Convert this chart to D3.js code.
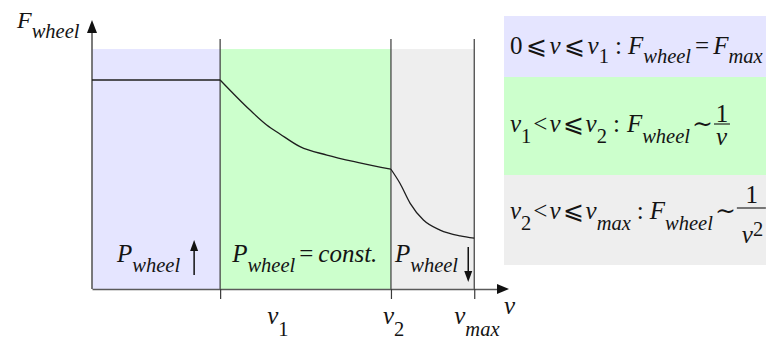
<!DOCTYPE html>
<html>
<head>
<meta charset="utf-8">
<script src="https://cdn.jsdelivr.net/npm/d3@7/dist/d3.min.js"></script>
<style>
  body { margin: 0; background: #fff; }
  svg { display: block; }
</style>
</head>
<body>
<svg id="chart" width="766" height="340"></svg>
<script>
// Speed breakpoints (arbitrary speed units) and their axis labels
const speedKeys = ["v1", "v2", "vmax"];
const speedValues = [30, 70, 89.5];
const speedLabels = [
  [{ t: "v", i: true }, { t: "1", sub: true }],
  [{ t: "v", i: true }, { t: "2", sub: true }],
  [{ t: "v", i: true }, { t: "max", i: true, sub: true }]
];

// Driving regimes: speed interval and fill colour
const regimeNames = ["constant force", "constant power", "falling power"];
const regimeStart = [0, 30, 70];
const regimeEnd = [30, 70, 89.5];
const regimeColors = ["#e5e5ff", "#ccffcc", "#eeeeee"];

// Wheel force over speed (v, F), one array per regime, F in % of Fmax
const forceConst = [[0, 100], [30, 100]];
const forcePower = [[30, 100], [37, 85.6], [40.9, 78.5], [44, 74.2], [48.7, 68.1],
                    [55, 64.1], [62.7, 60.4], [70, 57.3]];
const forceFalling = [[70, 57.3], [72.1, 50.6], [74.5, 41], [77.6, 33], [81.5, 28.2],
                      [86.2, 25.4], [89.5, 24.3]];

// Power labels inside each regime
const powerLabels = [
  [{ t: "P", i: true }, { t: "wheel", i: true, sub: true }],
  [{ t: "P", i: true }, { t: "wheel", i: true, sub: true }, { t: "=", dx: 4 }, { t: "const.", i: true, dx: 5 }],
  [{ t: "P", i: true }, { t: "wheel", i: true, sub: true }]
];
const powerArrows = ["up", "none", "down"];

// Legend formulas, one row per regime
const legendRows = [
  [{ t: "0" }, { t: "⩽", dx: 3 }, { t: "v", i: true, dx: 3 }, { t: "⩽", dx: 3 }, { t: "v", i: true, dx: 3 },
   { t: "1", sub: true }, { t: ":", dx: 6 }, { t: "F", i: true, dx: 6 }, { t: "wheel", i: true, sub: true },
   { t: "=", dx: 4 }, { t: "F", i: true, dx: 4 }, { t: "max", i: true, sub: true }],
  [{ t: "v", i: true }, { t: "1", sub: true }, { t: "<", dx: 2 }, { t: "v", i: true, dx: 2 }, { t: "⩽", dx: 2 },
   { t: "v", i: true, dx: 2 }, { t: "2", sub: true }, { t: ":", dx: 6 }, { t: "F", i: true, dx: 7 },
   { t: "wheel", i: true, sub: true }, { t: "∼", dx: 2 }],
  [{ t: "v", i: true }, { t: "2", sub: true }, { t: "<", dx: 2 }, { t: "v", i: true, dx: 2 }, { t: "⩽", dx: 2 },
   { t: "v", i: true, dx: 2 }, { t: "max", i: true, sub: true }, { t: ":", dx: 6 }, { t: "F", i: true, dx: 6 },
   { t: "wheel", i: true, sub: true }, { t: "∼", dx: 2 }]
];
const legendFractions = [null, { num: "1", den: "v", exp: null }, { num: "1", den: "v", exp: "2" }];

const axisTitleY = [{ t: "F", i: true }, { t: "wheel", i: true, sub: true }];
const axisTitleX = [{ t: "v", i: true }];

// ---------------------------------------------------------------------------
const svg = d3.select("#chart");
const FONT = "'Liberation Serif', 'DejaVu Serif', serif";
const INK = "#141414";

const x = d3.scaleLinear().domain([0, 96]).range([92, 502]);
const y = d3.scaleLinear().domain([0, 100]).range([289, 80]);

const F_SHADE_TOP = 114.8;   // top of the coloured regime bands
const F_DIVIDER_TOP = 119.6; // top of the breakpoint dividers
const F_AXIS_TOP = 128.7;    // tip of the force axis arrow

// Writes a formula made of segments (main / subscript / superscript)
function richText(parent, x0, y0, segs, opt) {
  const o = Object.assign({ size: 25, subSize: 20.5, subDy: 10, supDy: 8 }, opt || {});
  const t = parent.append("text")
    .attr("x", x0).attr("y", y0)
    .attr("font-family", FONT)
    .attr("fill", INK);
  segs.forEach(s => {
    const ts = t.append("tspan")
      .attr("y", y0 + (s.sub ? o.subDy : s.sup ? -o.supDy : 0))
      .attr("font-size", (s.sub || s.sup) ? o.subSize : o.size)
      .attr("font-style", s.i ? "italic" : "normal")
      .text(s.t);
    if (s.dx) ts.attr("dx", s.dx);
  });
  return t;
}

// Regime bands
svg.append("g").selectAll("rect")
  .data(regimeNames)
  .join("rect")
  .attr("x", (d, k) => x(regimeStart[k]))
  .attr("width", (d, k) => x(regimeEnd[k]) - x(regimeStart[k]))
  .attr("y", y(F_SHADE_TOP))
  .attr("height", y(0) - y(F_SHADE_TOP))
  .attr("fill", (d, k) => regimeColors[k]);

// Breakpoint dividers
svg.append("g").selectAll("line")
  .data(speedValues)
  .join("line")
  .attr("x1", d => x(d)).attr("x2", d => x(d))
  .attr("y1", y(F_DIVIDER_TOP)).attr("y2", y(0))
  .attr("stroke", "#3a3a3a").attr("stroke-width", 1.2);

// Speed axis with ticks at the breakpoints
const xAxis = svg.append("g")
  .attr("transform", `translate(0,${y(0)})`)
  .call(d3.axisBottom(x).tickValues(speedValues).tickSize(10).tickSizeOuter(0).tickFormat(""));
xAxis.select(".domain").attr("stroke", "#5a5a5a").attr("stroke-width", 1.6);
xAxis.selectAll(".tick line").attr("stroke", "#3a3a3a").attr("stroke-width", 1.2);

// Force axis
svg.append("line")
  .attr("x1", x(0)).attr("x2", x(0))
  .attr("y1", y(0)).attr("y2", y(F_AXIS_TOP) + 6)
  .attr("stroke", "#5a5a5a").attr("stroke-width", 1.6);

// Axis arrow heads
svg.append("path")
  .attr("d", `M${x(0)},${y(F_AXIS_TOP)} l-5,13 l10,0 z`)
  .attr("fill", "#111");
svg.append("path")
  .attr("d", `M${x(96) + 7},${y(0)} l-12,-5 l0,10 z`)
  .attr("fill", "#111");

// Wheel force curve, one path per regime (kinks at the breakpoints)
const line = d3.line().x(d => x(d[0])).y(d => y(d[1]));
[forceConst, forcePower, forceFalling].forEach((pts, k) => {
  svg.append("path")
    .datum(pts)
    .attr("d", line.curve(k === 0 ? d3.curveLinear : d3.curveMonotoneX))
    .attr("fill", "none")
    .attr("stroke", "#1e1e1e")
    .attr("stroke-width", 1.3);
});

// Axis titles
richText(svg, 17, 28, axisTitleY, { size: 24, subDy: 10 });
richText(svg, 504, 314, axisTitleX, { size: 25 });

// Breakpoint labels below the axis
const labelShift = [47, -8, -20];
speedLabels.forEach((segs, k) => {
  richText(svg, x(speedValues[k]) + labelShift[k], 324, segs, { subDy: 12 });
});

// Power labels inside the bands, with trend arrows
const powerShift = [25, 12, 4];
powerLabels.forEach((segs, k) => {
  richText(svg, x(regimeStart[k]) + powerShift[k], 262, segs, { subDy: 10 });
});
function vArrow(xc, yTop, yBot, dir) {
  const g = svg.append("g");
  if (dir === "up") {
    g.append("line").attr("x1", xc).attr("x2", xc).attr("y1", yTop + 8).attr("y2", yBot)
      .attr("stroke", "#111").attr("stroke-width", 1.5);
    g.append("path").attr("d", `M${xc},${yTop} l-4,11 l8,0 z`).attr("fill", "#111");
  } else {
    g.append("line").attr("x1", xc).attr("x2", xc).attr("y1", yTop).attr("y2", yBot - 8)
      .attr("stroke", "#111").attr("stroke-width", 1.5);
    g.append("path").attr("d", `M${xc},${yBot} l-4,-11 l8,0 z`).attr("fill", "#111");
  }
}
vArrow(x(regimeEnd[0]) - 26, 240, 275, powerArrows[0]);
vArrow(x(regimeEnd[2]) - 6, 247, 282, powerArrows[2]);

// Legend: one coloured row per regime
const legX = 504, legW = 262;
const rowTop = [16, 77, 175];
const rowBottom = [77, 175, 265];
const rowBase = [54, 132, 219];
const rowSubDy = [9, 11, 11];
const leg = svg.append("g");
leg.selectAll("rect")
  .data(regimeNames)
  .join("rect")
  .attr("x", legX).attr("width", legW)
  .attr("y", (d, k) => rowTop[k])
  .attr("height", (d, k) => rowBottom[k] - rowTop[k])
  .attr("fill", (d, k) => regimeColors[k]);

legendRows.forEach((segs, k) => {
  const t = richText(leg, 510, rowBase[k], segs, { subDy: rowSubDy[k] });
  const fr = legendFractions[k];
  if (!fr) return;
  const end = t.node().getBBox();
  const x0 = end.x + end.width + 1;
  const w = fr.exp ? 29 : 16;
  const lineY = fr.exp ? rowBase[k] - 11 : rowBase[k] - 8;
  const numY = fr.exp ? rowBase[k] - 16 : rowBase[k] - 10;
  const denY = fr.exp ? rowBase[k] + 24 : rowBase[k] + 13;
  leg.append("line")
    .attr("x1", x0).attr("x2", x0 + w)
    .attr("y1", lineY).attr("y2", lineY)
    .attr("stroke", INK).attr("stroke-width", 1.1);
  // numerator and denominator set as one text block
  const ft = leg.append("text")
    .attr("font-family", FONT).attr("font-size", 25).attr("fill", INK);
  ft.append("tspan")
    .attr("x", x0 + (fr.exp ? 15 : w / 2)).attr("y", numY)
    .attr("text-anchor", "middle")
    .text(fr.num);
  ft.append("tspan")
    .attr("x", x0 + (fr.exp ? 5 : 2)).attr("y", denY)
    .attr("font-style", "italic")
    .text(fr.den);
  if (fr.exp) {
    ft.append("tspan")
      .attr("y", denY - 7)
      .attr("font-size", 20.5)
      .text(fr.exp);
  }
});
</script>
</body>
</html>
